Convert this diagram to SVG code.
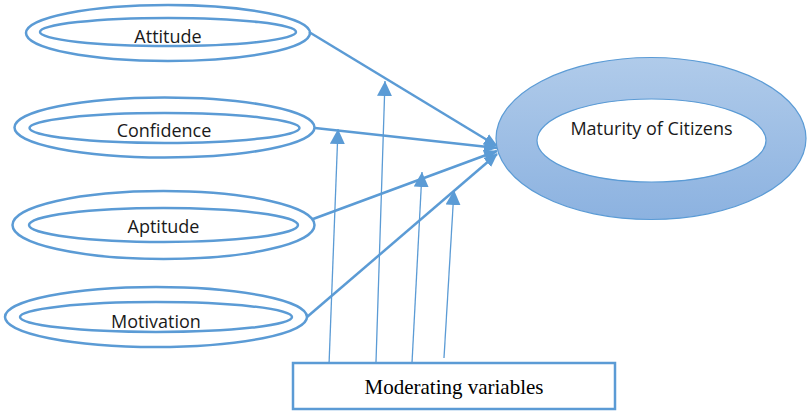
<svg xmlns="http://www.w3.org/2000/svg" width="807" height="412" viewBox="0 0 807 412">
  <defs>
    <linearGradient id="ringFill" x1="0" y1="0" x2="0" y2="1">
      <stop offset="0" stop-color="#b0cbea"/>
      <stop offset="1" stop-color="#8cb2e0"/>
    </linearGradient>
    <marker id="head" viewBox="0 0 14 12" refX="13" refY="6" markerWidth="14" markerHeight="12" markerUnits="userSpaceOnUse" orient="auto">
      <path d="M0,0 L14,6 L0,12 Z" fill="#5b9bd5"/>
    </marker>
    <marker id="headSmall" viewBox="0 0 15 15" refX="15" refY="7.5" markerWidth="15" markerHeight="15" markerUnits="userSpaceOnUse" orient="auto">
      <path d="M0,0 L15,7.5 L0,15 Z" fill="#5b9bd5"/>
    </marker>
  </defs>
  <style>
    .ring { fill: none; stroke: #5b9bd5; stroke-width: 2.5; }
    .label { font-family: "Open Sans", "Liberation Sans", sans-serif; font-size: 18px; fill: #1a1a1a; text-anchor: middle; }
    .link { fill: none; stroke: #5b9bd5; stroke-width: 2.5; marker-end: url(#head); }
    .mod { fill: none; stroke: #5b9bd5; stroke-width: 1.3; marker-end: url(#headSmall); }
  </style>

  <rect width="807" height="412" fill="#ffffff"/>

  <!-- connectors -->
  <g id="connectors">
    <line class="link" x1="309" y1="32" x2="497" y2="146"/>
    <line class="link" x1="315" y1="128" x2="497" y2="148"/>
    <line class="link" x1="313" y1="219" x2="497" y2="151"/>
    <line class="link" x1="307" y1="317" x2="497" y2="154"/>
    <line class="mod" x1="329" y1="365" x2="338" y2="129"/>
    <line class="mod" x1="376" y1="362" x2="385" y2="81"/>
    <line class="mod" x1="412" y1="363" x2="422" y2="172"/>
    <line class="mod" x1="444" y1="358" x2="454" y2="190"/>
  </g>

  <!-- factors -->
  <g id="attitude">
    <ellipse class="ring" cx="168" cy="33" rx="142" ry="28"/>
    <ellipse class="ring" cx="168" cy="32" rx="128" ry="14"/>
    <text class="label" x="168" y="43">Attitude</text>
  </g>
  <g id="confidence">
    <ellipse class="ring" cx="164.5" cy="127.5" rx="150" ry="30"/>
    <ellipse class="ring" cx="164.5" cy="128" rx="135" ry="15"/>
    <text class="label" x="164" y="137">Confidence</text>
  </g>
  <g id="aptitude">
    <ellipse class="ring" cx="163.5" cy="225" rx="151" ry="34"/>
    <ellipse class="ring" cx="163.5" cy="225" rx="134.5" ry="17"/>
    <text class="label" x="163.5" y="233">Aptitude</text>
  </g>
  <g id="motivation">
    <ellipse class="ring" cx="156" cy="317" rx="151" ry="30"/>
    <ellipse class="ring" cx="156" cy="317" rx="136" ry="15"/>
    <text class="label" x="156" y="328">Motivation</text>
  </g>

  <!-- outcome -->
  <g id="maturity">
    <ellipse cx="651" cy="138.5" rx="155" ry="81" fill="url(#ringFill)" stroke="#5b9bd5" stroke-width="1.2"/>
    <ellipse cx="651.5" cy="140.5" rx="114.5" ry="41.5" fill="#ffffff" stroke="#5b9bd5" stroke-width="1.2"/>
    <text class="label" x="651.5" y="135">Maturity of Citizens</text>
  </g>

  <!-- moderator -->
  <g id="moderating">
    <rect x="293" y="363" width="322" height="46" fill="#ffffff" stroke="#5b9bd5" stroke-width="2.5"/>
    <text x="454" y="394" font-family="'Liberation Serif', 'Times New Roman', serif" font-size="21" fill="#000000" text-anchor="middle">Moderating variables</text>
  </g>
</svg>
